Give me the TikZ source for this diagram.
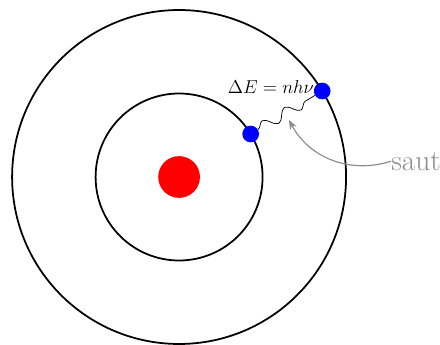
\documentclass[tikz,border=0pt]{standalone}
\usepackage{amsmath,amssymb}
\usepackage{xcolor}
\usepackage{tikz}
\usetikzlibrary{arrows.meta,positioning,decorations.pathmorphing}

\tikzset{
  orbit/.style={line width=1.2pt},
  electron/.style={circle,fill=blue,inner sep=0pt,minimum size=0.4cm},
  photon/.style={decorate,decoration={snake,amplitude=0.13cm,segment length=0.62cm},line width=0.5pt}
}

\begin{document}
\begin{tikzpicture}[>=Stealth]
\useasboundingbox (-4.29,-4.02) rectangle (6.25,4.24);
\draw[orbit] (0,0) circle (2);
\draw[orbit] (0,0) circle (4);
\node[circle,fill=red,inner sep=0pt,minimum size=1cm] (nucleus) at (0,0) {};
\node[electron] (e1) at (31:2) {};
\node[electron] (e2) at (31:4) {};
\draw[photon] (e1) -- (e2);
\node[scale=1.06] (dE) at (2.2,2.15) {\large $\Delta E = nh\nu$};
\node[anchor=west,inner sep=0pt,text=gray!90] (saut) at (5.08,0.38) {\fontsize{20}{24}\selectfont saut};
\coordinate (tip) at (2.63,1.37);
\draw[->,gray!90,line width=0.8pt] (saut.west) to[bend left=40] (tip);
\end{tikzpicture}
\end{document}
